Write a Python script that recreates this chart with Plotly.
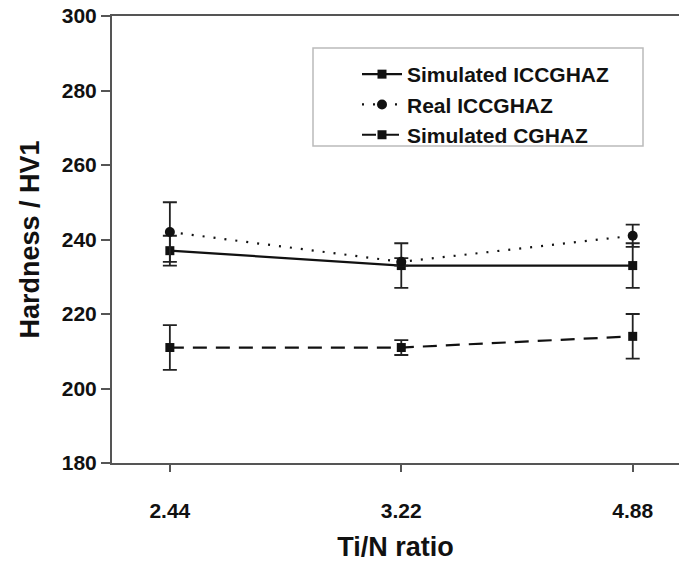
import plotly.graph_objects as go

ratios = ["2.44", "3.22", "4.88"]
sim_iccghaz = [237, 233, 233]
sim_iccghaz_err = [4, 6, 6]
real_iccghaz = [242, 234, 241]
real_iccghaz_err = [8, 1, 3]
sim_cghaz = [211, 211, 214]
sim_cghaz_err = [6, 2, 6]

fig = go.Figure()
fig.add_trace(go.Scatter(
    x=ratios, y=sim_iccghaz, name="Simulated ICCGHAZ", mode="lines+markers",
    line=dict(color="#111", width=2.2, dash="solid"),
    marker=dict(symbol="square", size=9, color="#111"),
    error_y=dict(type="data", array=sim_iccghaz_err, color="#222", thickness=1.8, width=7)))
fig.add_trace(go.Scatter(
    x=ratios, y=real_iccghaz, name="Real ICCGHAZ", mode="lines+markers",
    line=dict(color="#111", width=2.2, dash="2px,9px"),
    marker=dict(symbol="circle", size=10, color="#111"),
    error_y=dict(type="data", array=real_iccghaz_err, color="#222", thickness=1.8, width=7)))
fig.add_trace(go.Scatter(
    x=ratios, y=sim_cghaz, name="Simulated CGHAZ", mode="lines+markers",
    line=dict(color="#111", width=2.2, dash="14px,9px"),
    marker=dict(symbol="square", size=9, color="#111"),
    error_y=dict(type="data", array=sim_cghaz_err, color="#222", thickness=1.8, width=7)))

font_family = "Liberation Sans, Arial, sans-serif"
fig.update_layout(
    width=679, height=575,
    margin=dict(l=112, r=0, t=16, b=112, autoexpand=False),
    plot_bgcolor="white", paper_bgcolor="white",
    font=dict(family=font_family, color="#111"),
    showlegend=True,
    shapes=[dict(type="rect", xref="paper", yref="paper",
                 x0=(313 - 112) / 567, x1=(643 - 112) / 567,
                 y0=(463 - 146) / 447, y1=(463 - 48) / 447,
                 line=dict(color="#bbb", width=1.5), fillcolor="white", layer="below")],
    legend=dict(
        x=(357 - 112) / 567, y=(463 - 54) / 447, xanchor="left", yanchor="top",
        bgcolor="rgba(0,0,0,0)", borderwidth=0,
        font=dict(size=21, family=font_family, color="#111", weight="bold"),
        tracegroupgap=0, itemwidth=40,
    ),
    xaxis=dict(
        type="category", range=[-0.25, 2.2],
        showline=True, linecolor="#555", linewidth=2, mirror=True,
        ticks="outside", ticklen=7, tickcolor="#555", tickwidth=1.5,
        tickfont=dict(size=21, weight="bold", color="#111"),
        ticklabelstandoff=21,
        showgrid=False, zeroline=False,
        title=dict(text="Ti/N ratio", font=dict(size=27, weight="bold", color="#111"), standoff=16),
    ),
    yaxis=dict(
        range=[180, 300], tickvals=[180, 200, 220, 240, 260, 280, 300],
        showline=True, linecolor="#555", linewidth=2,
        ticks="outside", ticklen=9, tickcolor="#555", tickwidth=1.5,
        tickfont=dict(size=21, weight="bold", color="#111"),
        showgrid=False, zeroline=False,
        title=dict(text="Hardness / HV1", font=dict(size=27, weight="bold", color="#111"), standoff=14),
    ),
)

fig.write_html("out.html", config={"displayModeBar": False},
               post_script="document.body.style.margin='0';document.body.style.overflow='hidden';")
